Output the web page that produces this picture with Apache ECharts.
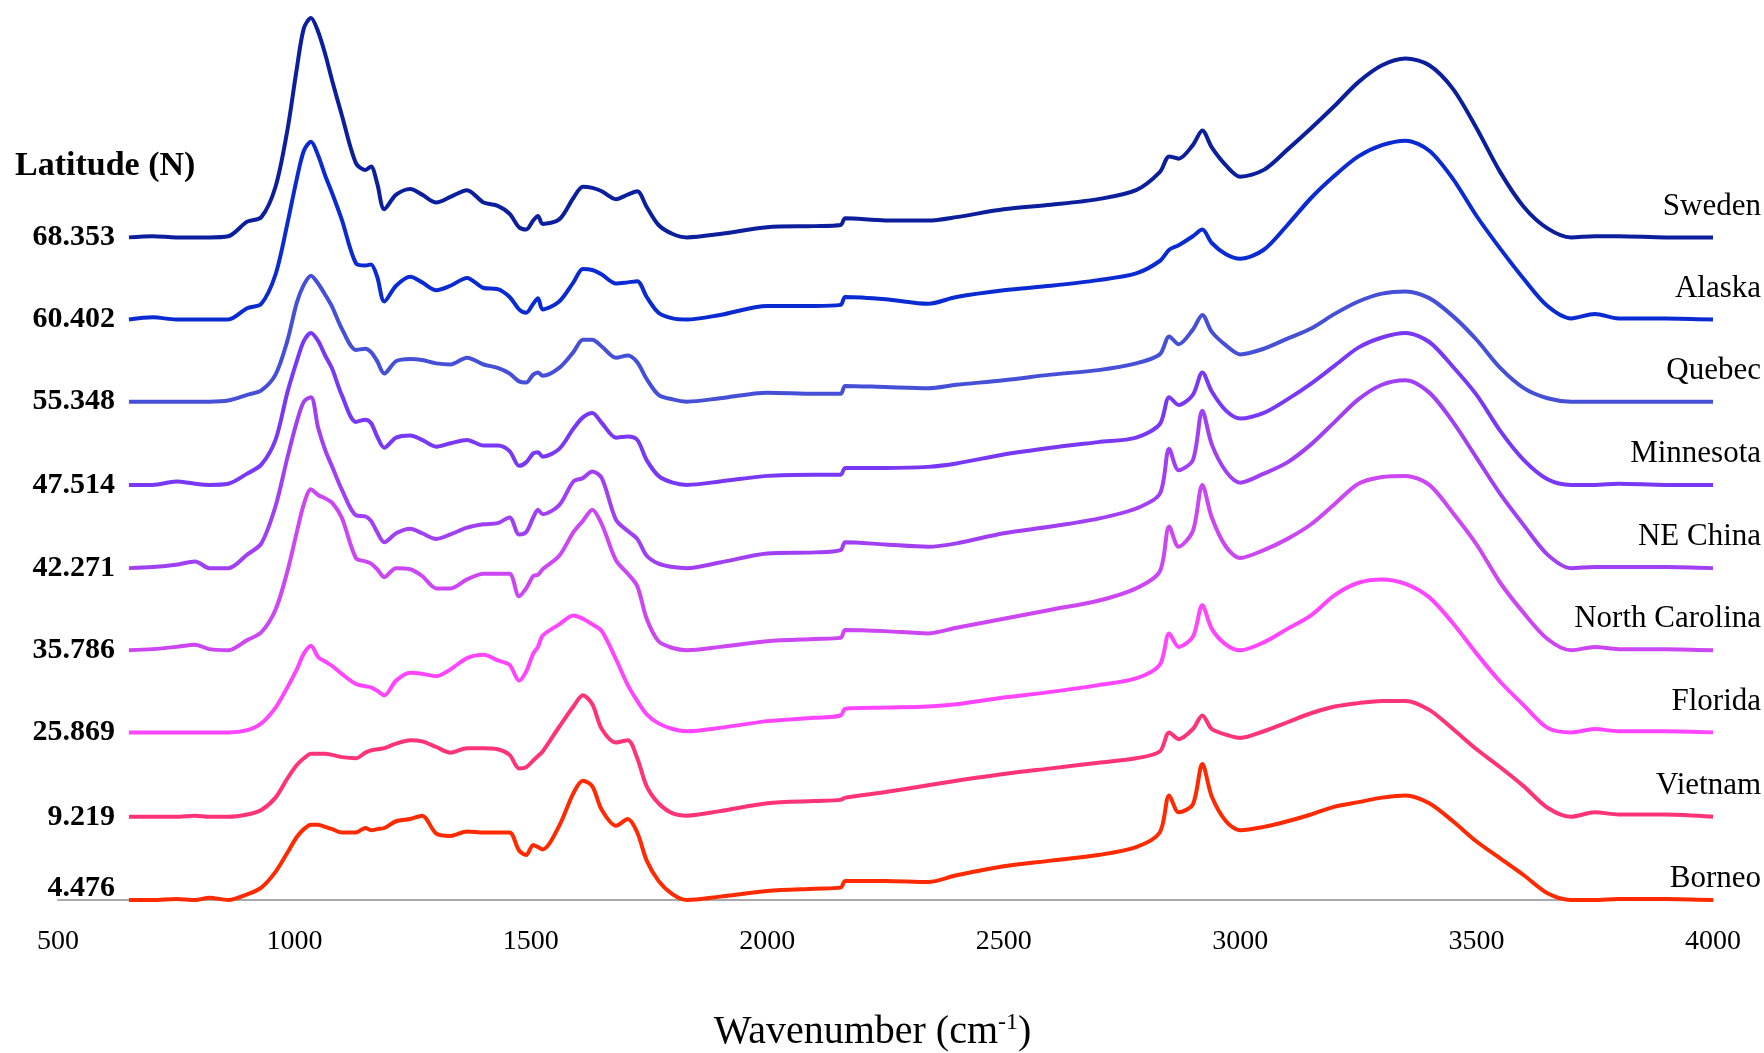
<!DOCTYPE html>
<html>
	<head>
		<meta charset="UTF-8">
		<title>Spectra by latitude</title>
		<script src="https://cdn.jsdelivr.net/npm/echarts@6/dist/echarts.min.js"></script>
		<style>
			html, body { margin: 0; padding: 0; background: #fff; }
			#chart { width: 1764px; height: 1053px; }
		</style>
	</head>
	<body>
		<div id="chart"></div>
		<script type="text/javascript">
			// wavenumber grid (cm-1) shared by all spectra
			var wavenumbers = [650, 700, 750, 790, 820, 860, 900, 930, 960, 985,
				1005, 1020, 1035, 1050, 1065, 1080, 1100, 1130, 1150, 1162,
				1175, 1190, 1215, 1245, 1270, 1300, 1330, 1365, 1400, 1430,
				1455, 1475, 1490, 1505, 1515, 1525, 1560, 1590, 1610, 1630,
				1650, 1680, 1705, 1725, 1745, 1770, 1800, 1830, 1900, 2000,
				2100, 2155, 2165, 2250, 2340, 2400, 2500, 2600, 2700, 2780,
				2830, 2850, 2870, 2900, 2920, 2940, 2970, 3000, 3050, 3100,
				3150, 3200, 3250, 3300, 3350, 3400, 3450, 3500, 3550, 3600,
				3650, 3700, 3750, 3800, 3900, 4000];

			var sites = ['Sweden', 'Alaska', 'Quebec', 'Minnesota', 'NE China', 'North Carolina', 'Florida', 'Vietnam', 'Borneo'];
			var latitudes = ['68.353', '60.402', '55.348', '47.514', '42.271', '35.786', '25.869', '9.219', '4.476'];
			// vertical stacking offset of each spectrum (a.u.)
			var offsets = [589, 516, 443, 369, 295, 222, 149, 74, 0];
			var colors = ['#0b1e9c', '#0a2ad2', '#4650d6', '#7838f4', '#a13ff2', '#cc46f2', '#ff45ff', '#ff3377', '#ff2a00'];

			// absorbance above baseline (a.u.)
			var sweden = [0, 1, 0, 0, 0, 1, 14, 18, 45, 95,
				150, 186, 195, 183, 163, 139, 109, 66, 60, 63,
				48, 25, 38, 43, 38, 31, 36, 42, 31, 28,
				21, 9, 7, 15, 19, 12, 16, 35, 45, 44,
				41, 34, 38, 41, 27, 11, 3, 0, 3, 9,
				10, 11, 17, 15, 15, 18, 25, 29, 34, 42,
				58, 72, 70, 82, 95, 80, 64, 54, 60, 78,
				97, 117, 138, 153, 159, 153, 132, 97, 58, 27,
				8, 0, 1, 1, 0, 0];
			var alaska = [0, 2, 0, 0, 0, 0, 10, 14, 40, 85,
				125, 150, 158, 146, 128, 112, 89, 50, 48, 49,
				38, 16, 30, 38, 33, 26, 30, 37, 28, 27,
				20, 9, 6, 14, 19, 9, 16, 33, 45, 44,
				40, 32, 33, 34, 20, 6, 1, 0, 4, 12,
				12, 13, 20, 18, 14, 20, 26, 30, 35, 41,
				52, 62, 66, 74, 80, 68, 58, 54, 62, 84,
				108, 128, 145, 155, 159, 150, 125, 92, 63, 36,
				12, 1, 5, 1, 1, 0];
			var quebec = [0, 0, 0, 0, 0, 1, 6, 10, 24, 54,
				88, 104, 112, 105, 95, 84, 65, 46, 47, 44,
				36, 25, 36, 38, 37, 34, 33, 39, 33, 30,
				25, 18, 17, 24, 26, 23, 30, 44, 55, 55,
				49, 39, 41, 35, 20, 6, 2, 0, 3, 8,
				7, 7, 14, 13, 12, 15, 19, 24, 28, 34,
				42, 58, 51, 64, 77, 62, 50, 42, 47, 56,
				65, 78, 89, 96, 98, 92, 76, 55, 30, 12,
				3, 0, 0, 0, 0, 0];
			var minnesota = [0, 0, 3, 1, 0, 1, 10, 18, 40, 82,
				110, 128, 135, 128, 115, 103, 80, 56, 58, 55,
				43, 33, 42, 44, 40, 34, 37, 40, 35, 35,
				30, 17, 20, 28, 29, 25, 32, 50, 60, 64,
				55, 42, 43, 40, 22, 8, 2, 0, 3, 8,
				9, 9, 15, 15, 16, 19, 27, 33, 38, 42,
				54, 78, 71, 80, 100, 83, 66, 59, 64, 76,
				90, 106, 122, 131, 135, 127, 105, 80, 48, 22,
				5, 0, 0, 1, 0, 0];
			var neChina = [0, 1, 3, 6, 0, 0, 12, 22, 55, 98,
				130, 148, 152, 125, 105, 90, 70, 47, 46, 42,
				32, 23, 31, 35, 31, 26, 30, 36, 39, 40,
				45, 30, 32, 45, 52, 48, 56, 77, 80, 86,
				80, 43, 33, 26, 11, 4, 1, 0, 5, 13,
				14, 16, 23, 21, 19, 22, 31, 37, 44, 53,
				66, 106, 87, 96, 140, 110, 86, 76, 84, 94,
				110, 130, 150, 163, 167, 156, 130, 98, 66, 38,
				12, 0, 1, 1, 1, 0];
			var northCarolina = [0, 1, 3, 5, 1, 0, 9, 16, 36, 70,
				105, 130, 143, 138, 135, 131, 118, 82, 79, 77,
				72, 65, 73, 72, 66, 55, 55, 63, 68, 68,
				68, 48, 55, 66, 67, 72, 84, 105, 115, 125,
				112, 80, 68, 57, 28, 8, 2, 0, 3, 8,
				10, 11, 18, 17, 15, 20, 28, 36, 44, 55,
				70, 110, 92, 106, 147, 118, 92, 82, 89, 99,
				112, 130, 148, 154, 155, 147, 122, 94, 60, 33,
				10, 0, 3, 1, 1, 0];
			var florida = [0, 0, 0, 0, 0, 0, 2, 8, 22, 40,
				56, 70, 77, 67, 63, 59, 52, 43, 41, 40,
				37, 33, 46, 53, 52, 50, 56, 66, 69, 64,
				60, 46, 54, 70, 76, 86, 96, 104, 101, 96,
				90, 65, 42, 28, 16, 8, 3, 1, 4, 10,
				13, 15, 21, 22, 23, 25, 31, 36, 42, 48,
				60, 88, 76, 85, 113, 92, 78, 73, 80, 92,
				104, 122, 133, 136, 132, 120, 97, 70, 45, 24,
				4, 0, 3, 1, 1, 0];
			var vietnam = [0, 0, 0, 1, 0, 0, 2, 6, 17, 34,
				46, 52, 56, 56, 56, 55, 53, 52, 57, 59,
				60, 61, 65, 68, 67, 62, 57, 61, 61, 60,
				55, 43, 44, 50, 54, 58, 80, 98, 108, 100,
				78, 66, 68, 52, 27, 12, 3, 1, 5, 12,
				14, 15, 17, 22, 28, 32, 38, 43, 48, 52,
				58, 75, 69, 78, 90, 78, 73, 70, 76, 84,
				92, 98, 101, 103, 103, 95, 78, 60, 44, 27,
				8, 0, 4, 2, 2, 0];
			var borneo = [0, 0, 1, 0, 2, 0, 5, 11, 25, 42,
				56, 63, 67, 67, 65, 63, 60, 60, 64, 62,
				63, 64, 70, 72, 75, 59, 57, 61, 60, 60,
				60, 44, 40, 49, 47, 45, 66, 95, 106, 101,
				80, 66, 72, 60, 35, 17, 5, 0, 3, 8,
				10, 11, 17, 17, 16, 22, 30, 35, 40, 47,
				60, 93, 78, 85, 121, 92, 70, 62, 65, 70,
				76, 83, 87, 91, 93, 86, 70, 52, 37, 22,
				6, 0, 0, 1, 1, 0];

			var spectra = [sweden, alaska, quebec, minnesota, neChina, northCarolina, florida, vietnam, borneo];

			var serif = "'Liberation Serif', 'Times New Roman', serif";

			var series = spectra.map(function(values, k) {
				var last = k === spectra.length - 1;
				return {
					name: sites[k],
					type: 'line',
					showSymbol: false,
					smooth: 0.3,
					lineStyle: { color: colors[k], width: 4 },
					itemStyle: { color: colors[k] },
					data: wavenumbers.map(function(w, i) {
						return [w, offsets[k] + values[i]];
					}),
					endLabel: {
						show: true,
						formatter: sites[k],
						color: '#000',
						fontFamily: serif,
						fontSize: 31,
						align: 'right',
						offset: [40, last ? -21 : -31]
					},
					markPoint: {
						symbol: 'circle',
						symbolSize: 0,
						silent: true,
						animation: false,
						data: [{ coord: [wavenumbers[0], offsets[k]] }],
						label: {
							show: true,
							position: 'left',
							distance: 14,
							offset: [0, last ? -12 : 0],
							formatter: latitudes[k],
							color: '#000',
							fontFamily: serif,
							fontWeight: 'bold',
							fontSize: 30
						}
					}
				};
			});

			var myChart = echarts.init(document.getElementById('chart'));
			var option = {
				backgroundColor: '#fff',
				animation: false,
				title: {
					text: 'Latitude (N)',
					left: 15,
					top: 149,
					padding: 0,
					textStyle: { fontFamily: serif, fontWeight: 'bold', fontSize: 34, color: '#000' }
				},
				grid: { left: 58, right: 51, top: 0, bottom: 153, outerBoundsMode: 'none' },
				xAxis: {
					type: 'value',
					min: 500,
					max: 4000,
					interval: 500,
					name: 'Wavenumber (cm{sup|-1})',
					nameLocation: 'middle',
					nameGap: 111,
					nameTextStyle: {
						fontFamily: serif,
						fontSize: 40,
						color: '#000',
						padding: [0, 26, 0, 0],
						rich: { sup: { fontFamily: serif, fontSize: 24, color: '#000', padding: [0, 0, 18, 0] } }
					},
					axisLine: { lineStyle: { color: '#a9a9a9', width: 2 } },
					axisTick: { show: false },
					splitLine: { show: false },
					axisLabel: {
						fontFamily: serif,
						fontSize: 28,
						color: '#000',
						margin: 28,
						formatter: function(v) { return String(v); }
					}
				},
				yAxis: {
					type: 'value',
					min: 0,
					max: 800,
					show: false
				},
				series: series
			};
			myChart.setOption(option);
		</script>
	</body>
</html>
